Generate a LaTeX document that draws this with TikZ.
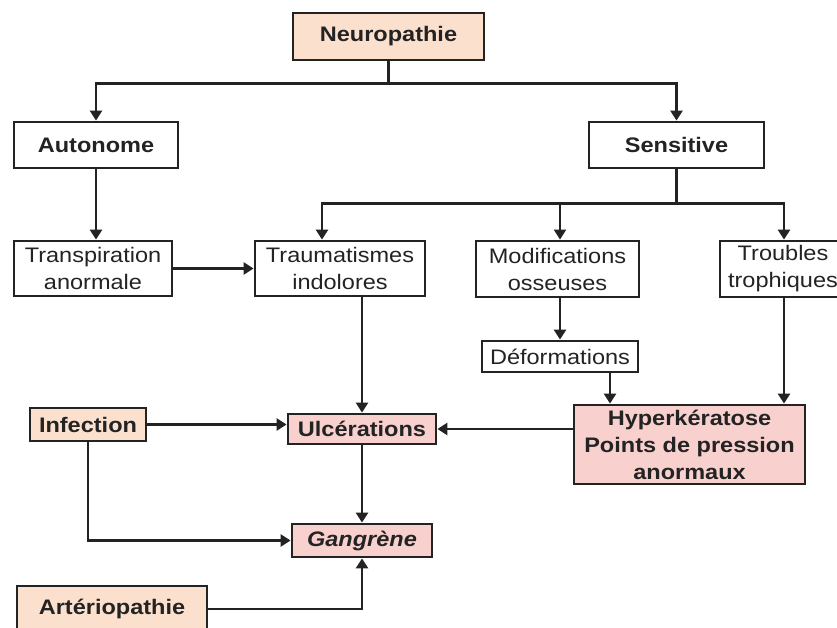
\documentclass[tikz,border=0pt]{standalone}
\usepackage{fontspec}
\setmainfont{Liberation Sans}[FakeStretch=1.12]
\definecolor{peachfill}{RGB}{252, 224, 206}
\definecolor{rosefill}{RGB}{248, 208, 206}
\definecolor{inkgray}{RGB}{35, 35, 35}
\usetikzlibrary{arrows.meta, positioning, calc}
\newcommand{\boxfont}{\fontsize{21}{27}\selectfont}

\tikzset{
  stage/.style={draw=inkgray, line width=2.8pt, fill=white, align=center,
    font=\boxfont, text=inkgray, inner sep=2pt},
  cause/.style={stage, fill=peachfill, font=\boxfont\bfseries},
  lesion/.style={stage, fill=rosefill, font=\boxfont\bfseries},
  flow/.style={draw=inkgray, line width=2.8pt, -{Triangle[width=12pt, length=10pt]}},
}

\begin{document}
\begin{tikzpicture}[x=1pt, y=-1pt]
  \useasboundingbox (0, 0) rectangle (837, 628);
  \clip (0, 0) rectangle (837, 628);

  % Top: neuropathy and its two branches
  \node[cause, minimum width=191pt, minimum height=47pt] (neuro) at (388.5, 36.5) {Neuropathie};
  \node[stage, font=\boxfont\bfseries, minimum width=164pt, minimum height=46pt] (auto) at (96, 145) {Autonome};
  \node[stage, font=\boxfont\bfseries, minimum width=175pt, minimum height=46pt] (sens) at (676.5, 145) {Sensitive};

  % Middle row
  \node[stage, minimum width=158pt, minimum height=55pt] (transp) at (93, 268.5) {Transpiration\\anormale};
  \node[stage, minimum width=170pt, minimum height=55pt] (trauma) at (340, 268.5) {Traumatismes\\indolores};
  \node[stage, minimum width=163pt, minimum height=56pt] (modif) at (557.5, 269) {Modifications\\osseuses};
  \node[stage, minimum width=126pt, minimum height=56pt] (troub) at (783, 269) {Troubles\\trophiques};
  \node[stage, minimum width=156pt, minimum height=31pt, inner sep=1pt] (deform) at (560, 356.5) {Déformations};
  \node[lesion, minimum width=231pt, minimum height=79pt] (hyper) at (689.5, 444.5) {Hyperkératose\\Points de pression\\anormaux};

  % Bottom: lesions
  \node[cause, minimum width=116pt, minimum height=33pt] (infect) at (88, 424.5) {Infection};
  \node[lesion, minimum width=148pt, minimum height=30pt] (ulcer) at (362, 429) {Ulcérations};
  \node[lesion, font=\boxfont\bfseries\itshape, minimum width=140pt, minimum height=33pt] (gang) at (362, 540.5) {Gangrène};
  \node[cause, minimum width=190pt, minimum height=46pt] (arterio) at (112, 609) {Artériopathie};

  % Connectors
  \coordinate (split) at ($(neuro.south) + (0, 22)$);
  \draw[flow] (neuro.south) -- (split) -| (auto.north);
  \draw[flow] (split) -| (sens.north);
  \draw[flow] (auto.south) -- (auto.south |- transp.north);
  \draw[flow] (transp.east) -- (trauma.west);

  \coordinate (bus) at ($(sens.south) + (0, 34)$);
  \draw[flow] (sens.south) -- (bus) -| ([xshift=-18pt]trauma.north);
  \draw[flow, line width=2pt] (bus) -| ([xshift=2.5pt]modif.north);
  \draw[flow] (bus) -| ([xshift=1pt]troub.north);

  \draw[flow] ([xshift=2.5pt]modif.south) -- ([xshift=2.5pt]modif.south |- deform.north);
  \draw[flow] ([xshift=50pt]deform.south) -- ([xshift=50pt]deform.south |- hyper.north);
  \draw[flow] ([xshift=1pt]troub.south) -- ([xshift=1pt]troub.south |- hyper.north);
  \draw[flow] (ulcer.east -| hyper.west) -- (ulcer.east);

  \draw[flow] (ulcer.north |- trauma.south) -- (ulcer.north);
  \draw[flow] (infect.east) -- (infect.east -| ulcer.west);
  \draw[flow] (infect.south) |- (gang.west);
  \draw[flow] (ulcer.south) -- (gang.north);
  \draw[flow] (arterio.east) -| (gang.south);
\end{tikzpicture}
\end{document}
